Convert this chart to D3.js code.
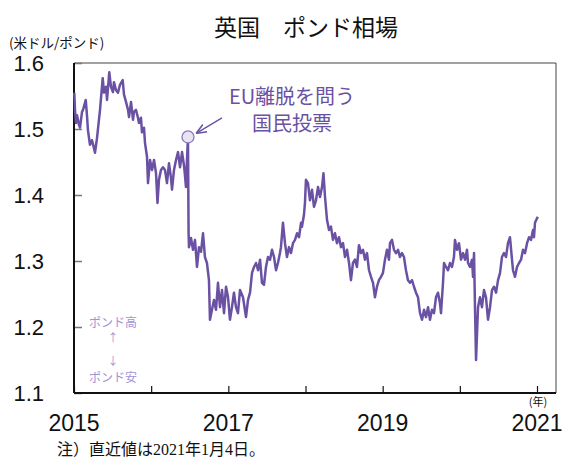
<!DOCTYPE html>
<html>
<head>
<meta charset="utf-8">
<style>
  body { margin: 0; background: #fff; }
  text { font-family: "Noto Sans CJK JP", "Noto Sans", sans-serif; }
  .num { font-family: "Liberation Sans Narrow", "Liberation Sans", Arial, sans-serif; }
</style>
</head>
<body>
<div id="chartId"></div>
<script src="https://cdn.jsdelivr.net/npm/d3@7"></script>
<script>

// decimal year of each reading
const t = [
  2015.004, 2015.013, 2015.026, 2015.039, 2015.065, 2015.078, 2015.104, 2015.117, 2015.152, 2015.168,
  2015.181, 2015.207, 2015.233, 2015.259, 2015.272, 2015.298, 2015.337, 2015.372, 2015.389, 2015.415,
  2015.428, 2015.457, 2015.479, 2015.505, 2015.518, 2015.544, 2015.570, 2015.596, 2015.631, 2015.648,
  2015.674, 2015.700, 2015.713, 2015.739, 2015.765, 2015.777, 2015.803, 2015.829, 2015.842, 2015.868,
  2015.881, 2015.907, 2015.920, 2015.946, 2015.959, 2015.985, 2016.011, 2016.037, 2016.063, 2016.082,
  2016.101, 2016.127, 2016.153, 2016.179, 2016.205, 2016.231, 2016.257, 2016.270, 2016.296, 2016.322,
  2016.348, 2016.374, 2016.400, 2016.425, 2016.438, 2016.451, 2016.464, 2016.477, 2016.485, 2016.490,
  2016.503, 2016.516, 2016.542, 2016.568, 2016.594, 2016.620, 2016.646, 2016.672, 2016.697, 2016.723,
  2016.749, 2016.762, 2016.788, 2016.814, 2016.840, 2016.866, 2016.892, 2016.918, 2016.944, 2016.970,
  2016.996, 2017.021, 2017.047, 2017.073, 2017.099, 2017.125, 2017.151, 2017.190, 2017.229, 2017.255,
  2017.281, 2017.307, 2017.333, 2017.359, 2017.385, 2017.411, 2017.436, 2017.462, 2017.488, 2017.514,
  2017.540, 2017.566, 2017.592, 2017.618, 2017.643, 2017.669, 2017.682, 2017.708, 2017.734, 2017.760,
  2017.786, 2017.812, 2017.838, 2017.864, 2017.890, 2017.916, 2017.942, 2017.954, 2017.980, 2017.993,
  2018.006, 2018.032, 2018.058, 2018.084, 2018.110, 2018.136, 2018.162, 2018.188, 2018.214, 2018.233,
  2018.253, 2018.279, 2018.305, 2018.330, 2018.356, 2018.382, 2018.408, 2018.434, 2018.460, 2018.486,
  2018.512, 2018.538, 2018.564, 2018.589, 2018.615, 2018.641, 2018.667, 2018.693, 2018.719, 2018.745,
  2018.771, 2018.797, 2018.823, 2018.849, 2018.875, 2018.900, 2018.926, 2018.952, 2018.978, 2019.004,
  2019.030, 2019.056, 2019.082, 2019.095, 2019.121, 2019.147, 2019.173, 2019.199, 2019.224, 2019.250,
  2019.276, 2019.302, 2019.328, 2019.354, 2019.380, 2019.406, 2019.432, 2019.458, 2019.484, 2019.510,
  2019.536, 2019.562, 2019.588, 2019.613, 2019.639, 2019.665, 2019.691, 2019.717, 2019.743, 2019.756,
  2019.782, 2019.795, 2019.821, 2019.847, 2019.872, 2019.898, 2019.924, 2019.937, 2019.963, 2019.989,
  2020.015, 2020.041, 2020.067, 2020.093, 2020.106, 2020.132, 2020.158, 2020.171, 2020.184, 2020.197,
  2020.210, 2020.223, 2020.236, 2020.261, 2020.287, 2020.313, 2020.339, 2020.365, 2020.391, 2020.417,
  2020.443, 2020.469, 2020.495, 2020.521, 2020.546, 2020.572, 2020.598, 2020.624, 2020.650, 2020.676,
  2020.689, 2020.715, 2020.741, 2020.767, 2020.793, 2020.819, 2020.845, 2020.871, 2020.897, 2020.922,
  2020.948, 2020.961, 2020.974, 2020.990, 2021.010
];

// US dollars per pound
const rate = [
  1.555, 1.529, 1.509, 1.521, 1.506, 1.502, 1.526, 1.529, 1.544, 1.521,
  1.498, 1.476, 1.483, 1.471, 1.464, 1.486, 1.529, 1.577, 1.555, 1.564,
  1.544, 1.586, 1.564, 1.556, 1.571, 1.559, 1.555, 1.567, 1.574, 1.552,
  1.541, 1.529, 1.518, 1.541, 1.514, 1.526, 1.529, 1.517, 1.509, 1.517,
  1.495, 1.502, 1.479, 1.458, 1.418, 1.453, 1.438, 1.453, 1.433, 1.388,
  1.423, 1.438, 1.442, 1.438, 1.418, 1.448, 1.426, 1.408, 1.438, 1.453,
  1.465, 1.442, 1.465, 1.445, 1.430, 1.412, 1.453, 1.488, 1.342, 1.321,
  1.327, 1.335, 1.317, 1.332, 1.291, 1.321, 1.314, 1.342, 1.306, 1.297,
  1.271, 1.211, 1.226, 1.241, 1.226, 1.267, 1.230, 1.256, 1.221, 1.261,
  1.245, 1.211, 1.230, 1.252, 1.230, 1.221, 1.256, 1.245, 1.215, 1.241,
  1.252, 1.282, 1.291, 1.297, 1.286, 1.302, 1.267, 1.264, 1.291, 1.306,
  1.302, 1.317, 1.306, 1.286, 1.297, 1.312, 1.321, 1.358, 1.327, 1.306,
  1.321, 1.312, 1.327, 1.332, 1.342, 1.336, 1.358, 1.352, 1.370, 1.388,
  1.423, 1.418, 1.392, 1.408, 1.382, 1.392, 1.412, 1.397, 1.412, 1.433,
  1.397, 1.362, 1.347, 1.352, 1.332, 1.342, 1.327, 1.336, 1.321, 1.327,
  1.306, 1.317, 1.297, 1.271, 1.297, 1.302, 1.291, 1.324, 1.312, 1.317,
  1.302, 1.312, 1.286, 1.276, 1.267, 1.245, 1.261, 1.271, 1.276, 1.282,
  1.302, 1.317, 1.302, 1.327, 1.332, 1.317, 1.312, 1.317, 1.306, 1.312,
  1.306, 1.286, 1.271, 1.267, 1.271, 1.261, 1.252, 1.245, 1.221, 1.211,
  1.226, 1.215, 1.230, 1.211, 1.226, 1.221, 1.245, 1.252, 1.236, 1.221,
  1.267, 1.297, 1.291, 1.286, 1.297, 1.291, 1.306, 1.332, 1.317, 1.327,
  1.302, 1.312, 1.302, 1.317, 1.297, 1.291, 1.302, 1.276, 1.312, 1.226,
  1.150, 1.191, 1.230, 1.245, 1.230, 1.256, 1.245, 1.211, 1.230, 1.256,
  1.261, 1.252, 1.271, 1.282, 1.306, 1.312, 1.306, 1.327, 1.336, 1.302,
  1.286, 1.276, 1.291, 1.297, 1.302, 1.317, 1.312, 1.327, 1.336, 1.332,
  1.347, 1.336, 1.358, 1.362, 1.367
];

// referendum day marker
const voteYear = 2016.477;
const voteRate = 1.488;

const yTicks = [1.1, 1.2, 1.3, 1.4, 1.5, 1.6];
const xTickYears = [2015, 2016, 2017, 2018, 2019, 2020, 2021];
const xLabels = [2015, 2017, 2019, 2021];

const W = 566, H = 459;
const margin = {top: 63, right: 10, bottom: 66, left: 74};
const width = W - margin.left - margin.right;   // 482
const height = H - margin.top - margin.bottom;  // 330
const lineColor = '#6a51a3';

const x = d3.scaleLinear().domain([2015, 2021]).range([0, 463]);
const y = d3.scaleLinear().domain([1.1, 1.6]).range([height, 0]);

const svg = d3.select('#chartId').append('svg')
  .attr('width', W).attr('height', H);

// title and units
svg.append('text').attr('x', 306).attr('y', 36)
  .attr('text-anchor', 'middle').style('font-size', '23px').attr('fill', '#111')
  .text('英国　ポンド相場');
svg.append('text').attr('x', 9).attr('y', 48)
  .style('font-size', '13.5px').attr('fill', '#111')
  .text('(米ドル/ポンド)');

const chart = svg.append('g')
  .attr('transform', 'translate(' + margin.left + ',' + margin.top + ')');

// frame: top and right thin
chart.append('line').attr('x1', 0).attr('x2', width).attr('y1', 0).attr('y2', 0)
  .attr('stroke', '#444').attr('stroke-width', 1);
chart.append('line').attr('x1', width).attr('x2', width).attr('y1', 0).attr('y2', height)
  .attr('stroke', '#444').attr('stroke-width', 1);

// y ticks (inward) + labels
const yAxis = d3.axisRight(y).tickValues(yTicks).tickSize(8).tickFormat('');
chart.append('g').call(yAxis)
  .call(g => g.select('.domain').remove())
  .call(g => g.selectAll('.tick line').attr('stroke', '#777').attr('stroke-width', 1.5));
chart.selectAll('.ylab').data(yTicks).enter().append('text')
  .attr('class', 'num')
  .attr('x', -30).attr('y', d => y(d) + 8)
  .attr('text-anchor', 'end')
  .style('font-size', '22px').attr('fill', '#111')
  .text(d => d3.format('.1f')(d));

// x ticks (inward) + labels
const xAxis = d3.axisTop(x).tickValues(xTickYears).tickSize(7).tickFormat('');
chart.append('g').attr('transform', 'translate(0,' + height + ')').call(xAxis)
  .call(g => g.select('.domain').remove())
  .call(g => g.selectAll('.tick line').attr('stroke', '#111').attr('stroke-width', 1.2));
chart.selectAll('.xlab').data(xLabels).enter().append('text')
  .attr('class', 'num')
  .attr('x', d => x(d)).attr('y', height + 38)
  .attr('text-anchor', 'middle')
  .style('font-size', '23px').attr('fill', '#111')
  .text(d => d);
chart.append('text').attr('x', x(2021) + 1).attr('y', height + 13)
  .attr('text-anchor', 'middle').style('font-size', '11px').attr('fill', '#111')
  .text('(年)');

// axes lines
chart.append('line').attr('x1', 0).attr('x2', 0).attr('y1', 0).attr('y2', height)
  .attr('stroke', '#111').attr('stroke-width', 2);
chart.append('line').attr('x1', 0).attr('x2', width).attr('y1', height).attr('y2', height)
  .attr('stroke', '#111').attr('stroke-width', 2);

// the series
const pts = t.map((d, i) => ({year: d, rate: rate[i]}));
const line = d3.line().x(d => x(d.year)).y(d => y(d.rate));
chart.append('path').datum(pts)
  .attr('fill', 'none').attr('stroke', lineColor)
  .attr('stroke-width', 2.5).attr('stroke-linejoin', 'round')
  .attr('d', line);

// referendum marker and callout
const cx = x(voteYear), cy = y(voteRate);
chart.append('defs').append('marker')
  .attr('id', 'arr').attr('viewBox', '0 0 10 10').attr('refX', 9).attr('refY', 5)
  .attr('markerWidth', 8).attr('markerHeight', 8).attr('orient', 'auto-start-reverse')
  .append('path').attr('d', 'M0,1 L10,5 L0,9').attr('fill', 'none')
  .attr('stroke', lineColor).attr('stroke-width', 1.5);
chart.append('line')
  .attr('x1', cx + 34).attr('y1', cy - 19)
  .attr('x2', cx + 9).attr('y2', cy - 4)
  .attr('stroke', lineColor).attr('stroke-width', 1.3)
  .attr('marker-end', 'url(#arr)');
chart.append('circle').attr('cx', cx).attr('cy', cy).attr('r', 6)
  .attr('fill', '#e8e4f2').attr('stroke', '#8c7bb8').attr('stroke-width', 1.3);
chart.append('text').attr('x', 218).attr('y', 41)
  .attr('text-anchor', 'middle').style('font-size', '20px').attr('fill', lineColor)
  .text('EU離脱を問う');
chart.append('text').attr('x', 218).attr('y', 68)
  .attr('text-anchor', 'middle').style('font-size', '20px').attr('fill', lineColor)
  .text('国民投票');

// direction hint
const hint = '#a192d4';
[['ポンド高', 264, 12], ['↑', 279, 11], ['↓', 302, 11], ['ポンド安', 319, 12]].forEach(([s, yy, fs]) => {
  chart.append('text').attr('x', 39).attr('y', yy)
    .attr('text-anchor', 'middle').style('font-size', fs + 'px').attr('fill', hint)
    .text(s);
});

// note
const serif = '"Liberation Serif", "DejaVu Serif", serif';
const note = svg.append('text').attr('x', 57).attr('y', 455)
  .style('font-size', '16px').attr('fill', '#111');
note.append('tspan').text('注）直近値は');
note.append('tspan').style('font-family', serif).text('2021');
note.append('tspan').text('年');
note.append('tspan').style('font-family', serif).text('1');
note.append('tspan').text('月');
note.append('tspan').style('font-family', serif).text('4');
note.append('tspan').text('日。');

</script>
</body>
</html>
